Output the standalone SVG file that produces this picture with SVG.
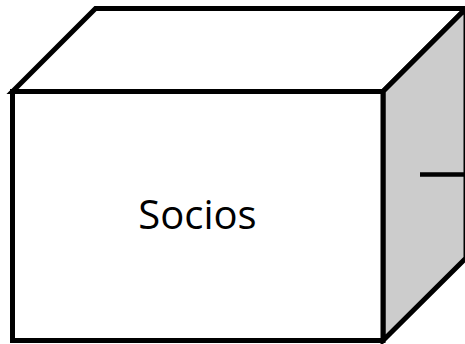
<svg xmlns="http://www.w3.org/2000/svg" width="465" height="344" viewBox="0 0 465 344">
<style>
.edge{stroke:#000;stroke-width:5;stroke-linejoin:miter}
.top{fill:#fff}
.side{fill:#cccccc}
.front{fill:#fff}
.lbl{font-family:"Open Sans","Liberation Sans",sans-serif;font-size:40px;fill:#000}
</style>
<rect width="465" height="344" fill="#fff"/>
<g id="node-socios">
<polygon class="edge top" points="12.5,91.5 95.5,8.5 466,8.5 383,91.5"/>
<polygon class="edge side" points="383,91.5 466,8.5 466,258 383,340.5"/>
<polygon class="edge front" points="12.5,91.5 383,91.5 383,340.5 12.5,340.5"/>
<text class="lbl" x="197.5" y="229" text-anchor="middle">Socios</text>
</g>
<g id="connectors">
<line x1="420" y1="174.5" x2="466" y2="174.5" stroke="#000" stroke-width="4.5"/>
</g>
</svg>
